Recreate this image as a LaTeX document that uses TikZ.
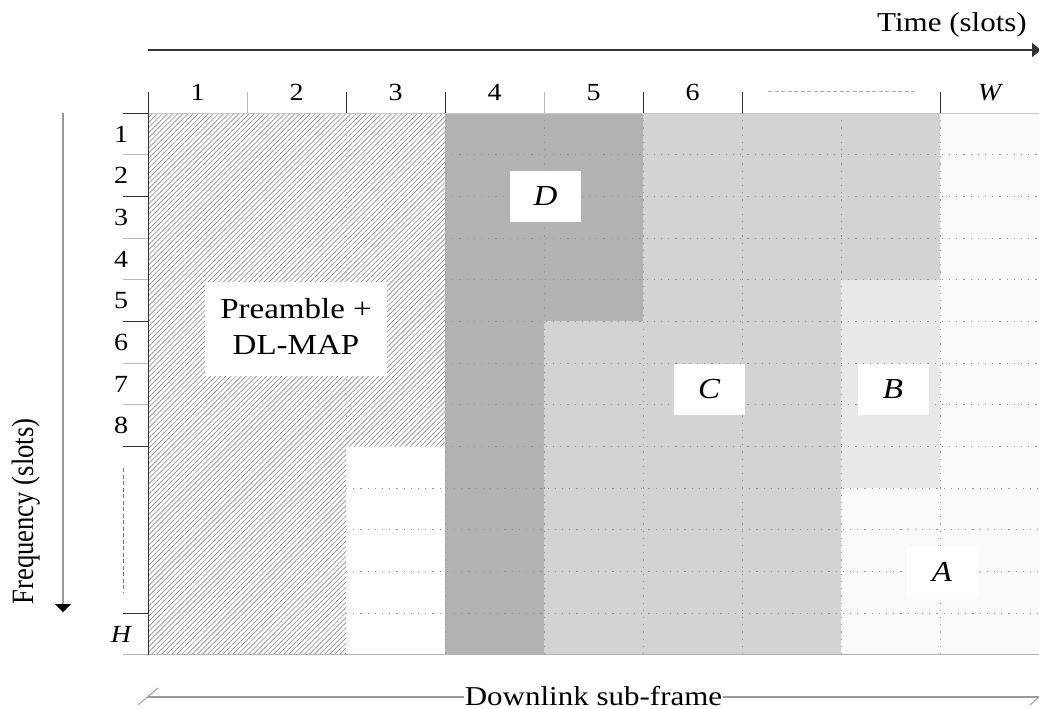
\documentclass[tikz,border=0pt]{standalone}
\usepackage{fontspec}
\setmainfont{Liberation Serif}
\usepackage{graphicx}
\usetikzlibrary{patterns.meta,arrows.meta}
\newcommand{\sqz}[1]{\scalebox{1}[0.88]{#1}}
\definecolor{colD}{HTML}{B2B2B2}
\definecolor{colC}{HTML}{D3D3D3}
\definecolor{colB}{HTML}{E8E8E8}
\definecolor{colA}{HTML}{FAFAFA}
\definecolor{axisgray}{HTML}{9A9A9A}
\begin{document}
\begin{tikzpicture}[x=1pt,y=-1pt,
  declare function={cx(\i)=148+99*\i; ry(\j)=113+41.69*\j;},
  numlab/.style={font=\fontsize{28}{30}\selectfont, inner sep=0pt, anchor=base},
  boxlab/.style={fill=white, minimum width=71pt, minimum height=51pt, inner sep=0pt,
                 font=\fontsize{33}{36}\selectfont\itshape},
  gridline/.style={gray!85, line width=0.9pt, dash pattern=on 1.2pt off 6pt},
  tickblack/.style={black!80, line width=0.9pt},
  tickgray/.style={gray!55, line width=0.9pt},
  axlab/.style={font=\fontsize{31}{34}\selectfont, inner sep=0pt},
  dimline/.style={axisgray, line width=1.2pt}]
\useasboundingbox (0,0) rectangle (1039,709);
\fill[white] (0,0) rectangle (1039,709);

% --- regions ---
\fill[pattern={Lines[angle=45,distance=3.6pt,line width=0.65pt]}, pattern color=gray!90]
  ({cx(0)},{ry(0)}) -- ({cx(3)},{ry(0)}) -- ({cx(3)},{ry(8)}) -- ({cx(2)},{ry(8)})
  -- ({cx(2)},{ry(13)}) -- ({cx(0)},{ry(13)}) -- cycle;
\fill[colD] ({cx(3)},{ry(0)}) rectangle ({cx(4)},{ry(13)});
\fill[colD] ({cx(4)},{ry(0)}) rectangle ({cx(5)},{ry(5)});
\fill[colC] ({cx(4)},{ry(5)}) rectangle ({cx(5)},{ry(13)});
\fill[colC] ({cx(5)},{ry(0)}) rectangle ({cx(7)},{ry(13)});
\fill[colC] ({cx(7)},{ry(0)}) rectangle ({cx(8)},{ry(4)});
\fill[colB] ({cx(7)},{ry(4)}) rectangle ({cx(8)},{ry(9)});
\fill[colA] ({cx(7)},{ry(9)}) rectangle ({cx(8)},{ry(13)});
\fill[colA] ({cx(8)},{ry(0)}) rectangle ({cx(9)},{ry(13)});

% --- dotted grid ---
\foreach \j in {1,...,8}
  \draw[gridline] ({cx(3)},{ry(\j)}) -- ({cx(9)},{ry(\j)});
\foreach \j in {9,...,12}
  \draw[gridline] ({cx(2)},{ry(\j)}) -- ({cx(9)},{ry(\j)});
\foreach \i in {3,...,8}
  \draw[gridline] ({cx(\i)},{ry(0)}) -- ({cx(\i)},{ry(13)});
\draw[gridline, gray!50] ({cx(2)},{ry(0)}) -- ({cx(2)},{ry(8)});

% --- frame lines and ticks ---
\draw[gray!45, line width=0.6pt] ({cx(0)},{ry(0)}) -- ({cx(9)},{ry(0)});
\draw[gray!60, line width=1pt] (123,{ry(13)}) -- ({cx(9)},{ry(13)});
\draw[tickblack] ({cx(0)},92) -- ({cx(0)},{ry(13)});
\foreach \i in {2,3,5,6,8}
  \draw[tickblack] ({cx(\i)},92) -- ({cx(\i)},{ry(0)});
\foreach \i in {1,4}
  \draw[tickgray] ({cx(\i)},92) -- ({cx(\i)},{ry(0)});
\foreach \j in {0,2,5,8,12}
  \draw[tickblack] (123,{ry(\j)}) -- ({cx(0)},{ry(\j)});
\foreach \j in {1,3,4,6,7}
  \draw[tickgray] (123,{ry(\j)}) -- ({cx(0)},{ry(\j)});

% --- column labels ---
\foreach \i in {1,...,6}
  \node[numlab] (col\i) at ({cx(\i-0.5)},100) {\sqz{\i}};
\node[numlab] (colW) at ({cx(8.5)},100) {\sqz{\itshape W}};
\draw[gray!65, line width=0.8pt, dash pattern=on 4pt off 2.5pt] (768,91) -- (917,91);

% --- row labels ---
\foreach \j in {1,...,8}
  \node[numlab] (row\j) at (121,{ry(\j-1)+29}) {\sqz{\j}};
\node[numlab] (rowH) at (121,{ry(12)+29}) {\sqz{\itshape H}};
\draw[gray!90!black, line width=0.9pt, dash pattern=on 4pt off 2.5pt] (123,468) -- (123,592);

% --- block labels ---
\node[fill=white, minimum width=182pt, minimum height=94pt, inner sep=0pt,
      font=\fontsize{33}{41}\selectfont] (pre) at (296,329)
  {\sqz{\begin{tabular}{@{}c@{}}Preamble +\\DL-MAP\end{tabular}}};
\node[boxlab] (D) at (545.5,196.5) {\sqz{D}};
\node[boxlab] (C) at (709,389) {\sqz{C}};
\node[boxlab] (B) at (893,389) {\sqz{B}};
\node[boxlab] (A) at (942,572) {\sqz{A}};

% --- time axis ---
\coordinate (t0) at (148,50);
\coordinate (t1) at (1041,50);
\draw[black!80, line width=1.3pt, -{Triangle[length=9pt,width=14pt]}] (t0) -- (t1);
\node[axlab, anchor=base east] (tlab) at (1027,32) {\sqz{Time (slots)}};

% --- frequency axis ---
\coordinate (f0) at (63,113);
\coordinate (f1) at (63,612);
\draw[axisgray, line width=1.3pt, -{Triangle[length=8pt,width=16pt,color=black]}] (f0) -- (f1);
\node[axlab, rotate=90, anchor=base] (flab) at (33,511.5) {\scalebox{0.86}[1]{Frequency (slots)}};

% --- downlink sub-frame ---
\coordinate (dl0) at (148,697);
\coordinate (dl1) at (1039,697);
\coordinate (sl0a) at (138,705);
\coordinate (sl0b) at (158,688);
\coordinate (sl1a) at (1030,705);
\coordinate (sl1b) at (1048,689);
\node[axlab, anchor=base, inner xsep=0.5pt] (dlab) at (593.5,705) {\sqz{Downlink sub-frame}};
\draw[dimline] (dl0) -- (dlab.west |- dl0);
\draw[dimline] (dlab.east |- dl1) -- (dl1);
\draw[dimline, line width=0.9pt] (sl0a) -- (sl0b);
\draw[dimline, line width=0.9pt] (sl1a) -- (sl1b);
\end{tikzpicture}
\end{document}
